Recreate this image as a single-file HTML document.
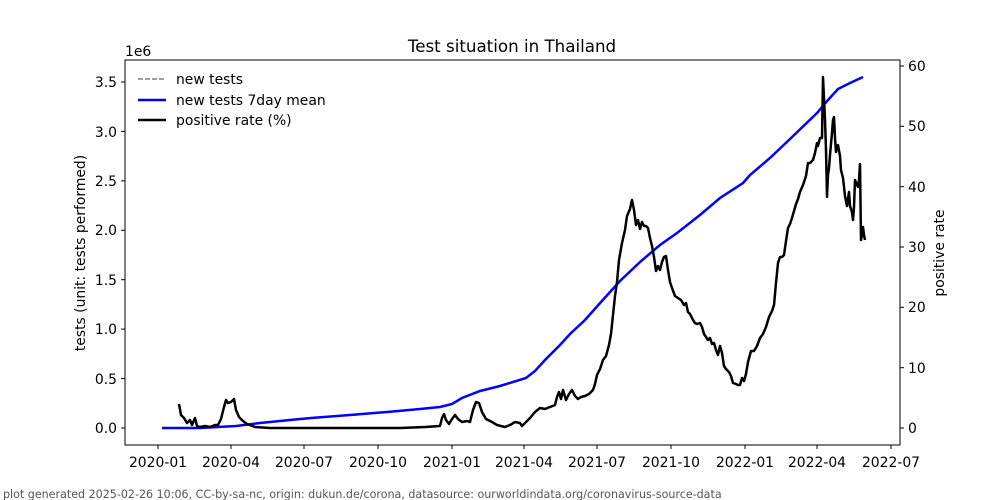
<!DOCTYPE html>
<html><head><meta charset="utf-8"><style>body{margin:0;background:#fff}svg{display:block}text{font-family:"DejaVu Sans","Liberation Sans",sans-serif;fill:#000}</style></head>
<body>
<svg width="1000" height="500" viewBox="0 0 1000 500" xmlns="http://www.w3.org/2000/svg">
<rect width="1000" height="500" fill="#fff"/>
<text x="512" y="52" font-size="16.7" text-anchor="middle">Test situation in Thailand</text>
<text x="125" y="56" font-size="13.9">1e6</text>
<g font-size="13.9" text-anchor="end">
<line x1="125" x2="121" y1="428" y2="428" stroke="#000"/><text x="117" y="433">0.0</text>
<line x1="125" x2="121" y1="378.6" y2="378.6" stroke="#000"/><text x="117" y="384">0.5</text>
<line x1="125" x2="121" y1="329.1" y2="329.1" stroke="#000"/><text x="117" y="334">1.0</text>
<line x1="125" x2="121" y1="279.7" y2="279.7" stroke="#000"/><text x="117" y="285">1.5</text>
<line x1="125" x2="121" y1="230.3" y2="230.3" stroke="#000"/><text x="117" y="235">2.0</text>
<line x1="125" x2="121" y1="180.9" y2="180.9" stroke="#000"/><text x="117" y="186">2.5</text>
<line x1="125" x2="121" y1="131.4" y2="131.4" stroke="#000"/><text x="117" y="137">3.0</text>
<line x1="125" x2="121" y1="82" y2="82" stroke="#000"/><text x="117" y="87">3.5</text>
</g>
<g font-size="13.9">
<line x1="900" x2="904" y1="428" y2="428" stroke="#000"/><text x="908" y="433">0</text>
<line x1="900" x2="904" y1="367.7" y2="367.7" stroke="#000"/><text x="908" y="373">10</text>
<line x1="900" x2="904" y1="307.3" y2="307.3" stroke="#000"/><text x="908" y="312">20</text>
<line x1="900" x2="904" y1="247" y2="247" stroke="#000"/><text x="908" y="252">30</text>
<line x1="900" x2="904" y1="186.7" y2="186.7" stroke="#000"/><text x="908" y="192">40</text>
<line x1="900" x2="904" y1="126.3" y2="126.3" stroke="#000"/><text x="908" y="131">50</text>
<line x1="900" x2="904" y1="66" y2="66" stroke="#000"/><text x="908" y="71">60</text>
</g>
<g font-size="13.9" text-anchor="middle">
<line x1="158" x2="158" y1="445" y2="449" stroke="#000"/><text x="158" y="467">2020-01</text>
<line x1="231" x2="231" y1="445" y2="449" stroke="#000"/><text x="231" y="467">2020-04</text>
<line x1="304" x2="304" y1="445" y2="449" stroke="#000"/><text x="304" y="467">2020-07</text>
<line x1="378" x2="378" y1="445" y2="449" stroke="#000"/><text x="378" y="467">2020-10</text>
<line x1="452" x2="452" y1="445" y2="449" stroke="#000"/><text x="452" y="467">2021-01</text>
<line x1="524" x2="524" y1="445" y2="449" stroke="#000"/><text x="524" y="467">2021-04</text>
<line x1="597" x2="597" y1="445" y2="449" stroke="#000"/><text x="597" y="467">2021-07</text>
<line x1="671" x2="671" y1="445" y2="449" stroke="#000"/><text x="671" y="467">2021-10</text>
<line x1="745" x2="745" y1="445" y2="449" stroke="#000"/><text x="745" y="467">2022-01</text>
<line x1="817" x2="817" y1="445" y2="449" stroke="#000"/><text x="817" y="467">2022-04</text>
<line x1="891" x2="891" y1="445" y2="449" stroke="#000"/><text x="891" y="467">2022-07</text>
</g>
<text transform="translate(85,253) rotate(-90)" font-size="13.9" text-anchor="middle">tests (unit: tests performed)</text>
<text transform="translate(944,253) rotate(-90)" font-size="13.9" text-anchor="middle">positive rate</text>
<polyline fill="none" stroke="#0000ff" stroke-width="2.5" points="162,428 200,428 236,426 260,423 290,420 311,418 350,415 387,412 420,409 440,407 452,404 462,398 480,391 500,386 526,378 535,371 545,360 560,345 570,334 585,320 601,302 620,281 640,262 660,245 677,233 700,215 720,198 743,183 750,175 770,158 790,139 817,113 828,100 838,89 850,83 863,77"/>
<polyline fill="none" stroke="#000" stroke-width="2.5" stroke-linejoin="round" points="179,404 181,415 184,418 187,423 190,420 192,425 195,418 197,426 200,427 205,426 210,427 215,425 218,425 221,419 224,407 226,400 228,403 231,402 234,399 236,410 239,417 243,421 247,424 255,427 270,428 300,428 350,428 400,428 425,427 440,426 442,418 444,414 446,420 449,424 452,419 455,415 458,419 462,422 467,421 470,422 473,410 476,402 479,403 482,412 486,419 492,422 497,425 505,427 510,425 515,422 520,423 522,426 525,423 530,418 535,412 540,408 545,409 550,407 555,405 557,397 559,392 561,399 563,390 566,400 569,394 572,390 575,396 578,399 581,397 585,396 589,394 593,390 595,384 597,375 600,369 603,360 606,356 609,345 611,334 613,315 615,296 617,282 619,260 622,243 625,230 627,216 630,209 632,200 634,210 636,225 638,220 640,229 642,222 644,226 646,226 648,228 650,238 652,246 654,257 656,271 658,266 660,270 662,262 664,257 666,256 668,270 670,282 672,288 675,296 678,298 681,300 684,305 686,303 688,312 690,314 693,320 695,323 697,324 700,323 702,327 704,334 706,337 708,340 710,338 712,344 714,343 716,350 718,355 720,346 722,353 724,366 726,369 729,372 731,376 733,383 736,384 738,385 740,385 742,378 744,381 746,374 748,362 751,351 754,351 757,346 760,338 763,334 766,327 769,317 772,311 774,305 776,283 778,263 780,257 782,257 784,255 786,241 788,228 790,224 792,218 794,211 796,204 798,199 800,192 803,185 806,176 808,163 810,163 813,160 815,153 817,143 818,146 820,138 822,138 823,77 825,120 826,150 827,197 828,175 829,168 830,155 832,133 833,120 834,117 835,138 836,152 837,148 838,145 840,156 841,170 843,178 845,196 847,206 849,192 850,206 852,212 853,220 854,207 855,180 857,185 858,187 859,180 860,164 861,240 862,235 863,227 864,235 865,240"/>
<line x1="138" x2="166" y1="79" y2="79" stroke="#808080" stroke-width="1.5" stroke-dasharray="5,2"/>
<text x="176" y="84" font-size="13.9">new tests</text>
<line x1="138" x2="166" y1="100" y2="100" stroke="#0000ff" stroke-width="2.5"/>
<text x="176" y="105" font-size="13.9">new tests 7day mean</text>
<line x1="138" x2="166" y1="120" y2="120" stroke="#000" stroke-width="2.5"/>
<text x="176" y="125" font-size="13.9">positive rate (%)</text>
<rect x="125" y="60" width="775" height="385" fill="none" stroke="#000" stroke-width="1"/>
<text x="3" y="498" font-size="11.1" style="fill:#555">plot generated 2025-02-26 10:06, CC-by-sa-nc, origin: dukun.de/corona, datasource: ourworldindata.org/coronavirus-source-data</text>
</svg>
</body></html>
